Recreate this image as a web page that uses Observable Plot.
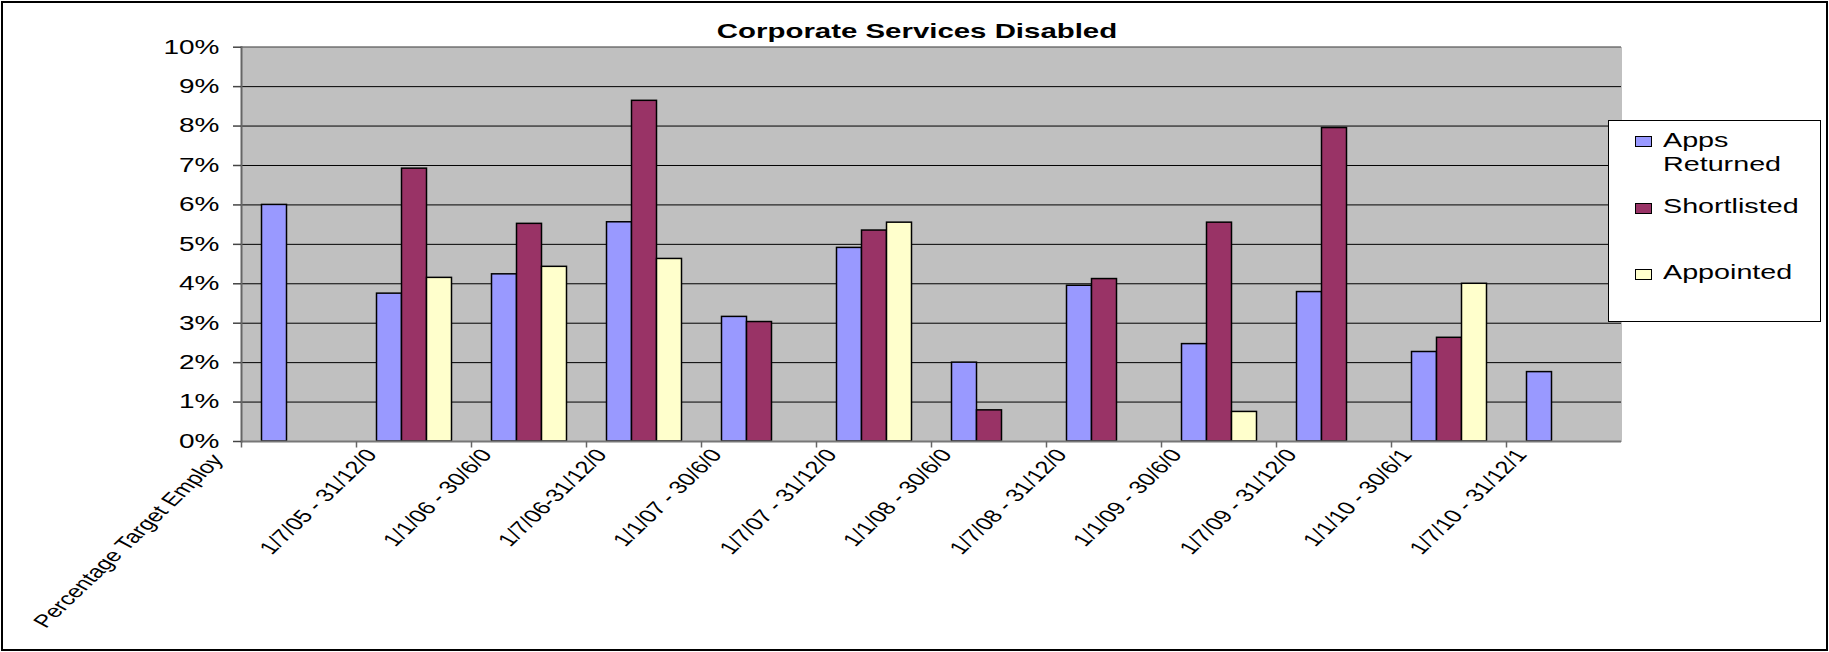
<!DOCTYPE html>
<html>
<head>
<meta charset="utf-8">
<script src="https://cdn.jsdelivr.net/npm/d3@7"></script>
<script src="https://cdn.jsdelivr.net/npm/@observablehq/plot@0.6"></script>
<style>
html, body { margin: 0; padding: 0; background: #fff; }
#wrap { position: relative; width: 1829px; height: 652px; overflow: hidden; font-family: "Liberation Sans", Arial, sans-serif; color: #000; }
#wrap svg { position: absolute; left: 0; top: 0; }
#border { position: absolute; left: 1px; top: 1px; width: 1827px; height: 650px; box-sizing: border-box; border: 2px solid #000; pointer-events: none; }
#title { position: absolute; left: 916.5px; top: 20px; font-size: 21px; line-height: 21px; font-weight: bold; white-space: nowrap; transform: translateX(-50%) scaleX(1.4); }
#legend { position: absolute; left: 1608px; top: 120px; width: 213px; height: 202px; box-sizing: border-box; border: 1px solid #000; background: #fff; }
.sw { position: absolute; left: 26px; width: 17px; height: 11px; box-sizing: border-box; border: 1px solid #000; }
.lt { position: absolute; left: 54px; width: 113px; font-size: 20.5px; line-height: 24px; transform-origin: 0 0; transform: scaleX(1.4); }
</style>
</head>
<body>
<div id="wrap">
  <div id="title"></div>
  <div id="legend"></div>
  <div id="border"></div>
</div>
<script>
const title = "Corporate Services Disabled";
const categories = ["Percentage Target Employees", "1/7/05 - 31/12/05", "1/1/06 - 30/6/06", "1/7/06-31/12/06", "1/1/07 - 30/6/07", "1/7/07 - 31/12/07", "1/1/08 - 30/6/08", "1/7/08 - 31/12/08", "1/1/09 - 30/6/09", "1/7/09 - 31/12/09", "1/1/10 - 30/6/10", "1/7/10 - 31/12/10"];
const tickLabels = ["Percentage Target Employ", "1/7/05 - 31/12/0", "1/1/06 - 30/6/0", "1/7/06-31/12/0", "1/1/07 - 30/6/0", "1/7/07 - 31/12/0", "1/1/08 - 30/6/0", "1/7/08 - 31/12/0", "1/1/09 - 30/6/0", "1/7/09 - 31/12/0", "1/1/10 - 30/6/1", "1/7/10 - 31/12/1"];
const series = ["Apps Returned", "Shortlisted", "Appointed"];
const appsReturned = [0.0600, 0.0375, 0.0424, 0.0556, 0.0316, 0.0491, 0.0200, 0.0395, 0.0247, 0.0379, 0.0227, 0.0176];
const shortlisted  = [null, 0.0692, 0.0552, 0.0864, 0.0303, 0.0535, 0.0079, 0.0412, 0.0555, 0.0795, 0.0263, null];
const appointed    = [null, 0.0415, 0.0443, 0.0463, null, 0.0555, null, null, 0.0075, null, 0.0400, null];
const yTicks = [0, 0.01, 0.02, 0.03, 0.04, 0.05, 0.06, 0.07, 0.08, 0.09, 0.10];
const colors = ["#9999FF", "#993366", "#FFFFCC"];

const values = [appsReturned, shortlisted, appointed];
const rows = [];
categories.forEach((c, i) => {
  values.forEach((arr, j) => {
    if (arr[i] != null) rows.push({category: c, series: series[j], value: arr[i]});
  });
});
const labelOf = c => tickLabels[categories.indexOf(c)];

const tickSymbol = {draw(ctx) { ctx.moveTo(0, 0); ctx.lineTo(0, 6); }};

const chart = Plot.plot({
  width: 1829,
  height: 652,
  marginLeft: 237.5,
  marginRight: 204,
  marginTop: 46.7,
  marginBottom: 211,
  style: {fontFamily: '"Liberation Sans", Arial, sans-serif', background: "transparent", color: "#000", overflow: "visible"},
  fx: {domain: categories, padding: 0, label: null, axis: null},
  x: {domain: series, paddingInner: 0, paddingOuter: 0.73, axis: null},
  y: {domain: [0, 0.1], label: null, axis: null},
  color: {domain: series, range: colors},
  marks: [
    Plot.frame({fill: "#C0C0C0", shapeRendering: "crispEdges"}),
    Plot.gridY(yTicks, {stroke: "#000", strokeOpacity: 1, strokeWidth: 1}),
    Plot.ruleY([0.1], {stroke: "#808080", strokeWidth: 1.5}),
    Plot.barY(rows, {fx: "category", x: "series", y: "value", fill: "series", stroke: "#000", strokeWidth: 1.5}),
    Plot.ruleY([0], {stroke: "#777", strokeWidth: 2}),
    Plot.frame({anchor: "left", stroke: "#666", strokeWidth: 2, fx: categories[0]}),
    Plot.axisY(yTicks, {tickSize: 8, tickPadding: 14, tickFormat: d3.format(".0%"), fontSize: 20, stroke: "#444", strokeWidth: 1.5, fill: "#000", label: null}),
    Plot.dot(categories, {fx: d => d, frameAnchor: "bottom-left", symbol: tickSymbol, r: 3, fill: "none", stroke: "#666", strokeWidth: 1.5}),
    Plot.text(categories.slice(1), {fx: d => d, text: labelOf, frameAnchor: "bottom-left", dx: 15, dy: 10, rotate: -53, textAnchor: "end", lineAnchor: "middle", fontSize: 18, fill: "#000"}),
    Plot.text([categories[0]], {fx: d => d, text: labelOf, frameAnchor: "bottom-left", dx: -24, dy: 15, rotate: -53, textAnchor: "end", lineAnchor: "middle", fontSize: 18, fill: "#000"})
  ]
});

const wrap = document.getElementById("wrap");
wrap.insertBefore(chart, wrap.firstChild);
document.getElementById("title").textContent = title;

// horizontal stretch of text about its anchor, in screen space (as in the stretched original image)
const toDM = m => new DOMMatrix([m.a, m.b, m.c, m.d, m.e, m.f]);
function stretchEl(t, k) {
  const P = toDM(t.parentNode.getCTM());
  const M = toDM(t.getCTM());
  const ax = parseFloat(t.getAttribute("x")) || 0;
  const pt = new DOMPoint(ax, 0).matrixTransform(M);
  const S = new DOMMatrix().translate(pt.x, pt.y).scale(k, 1).translate(-pt.x, -pt.y);
  const L = P.inverse().multiply(S.multiply(M));
  t.setAttribute("transform", `matrix(${L.a},${L.b},${L.c},${L.d},${L.e},${L.f})`);
}
const labelSet = new Set(tickLabels);
chart.querySelectorAll('[aria-label="y-axis tick label"] text').forEach(t => stretchEl(t, 1.4));
chart.querySelectorAll('text').forEach(t => { if (labelSet.has(t.textContent)) stretchEl(t, 1.4); });

const legend = document.getElementById("legend");
const swatchTops = [15, 81.5, 147.5];
const textTops = [6.6, 72.6, 138.9];
series.forEach((s, j) => {
  const sw = document.createElement("div");
  sw.className = "sw";
  sw.style.top = swatchTops[j] + "px";
  sw.style.background = colors[j];
  legend.appendChild(sw);
  const t = document.createElement("div");
  t.className = "lt";
  t.style.top = textTops[j] + "px";
  t.textContent = s;
  legend.appendChild(t);
});
</script>
</body>
</html>
